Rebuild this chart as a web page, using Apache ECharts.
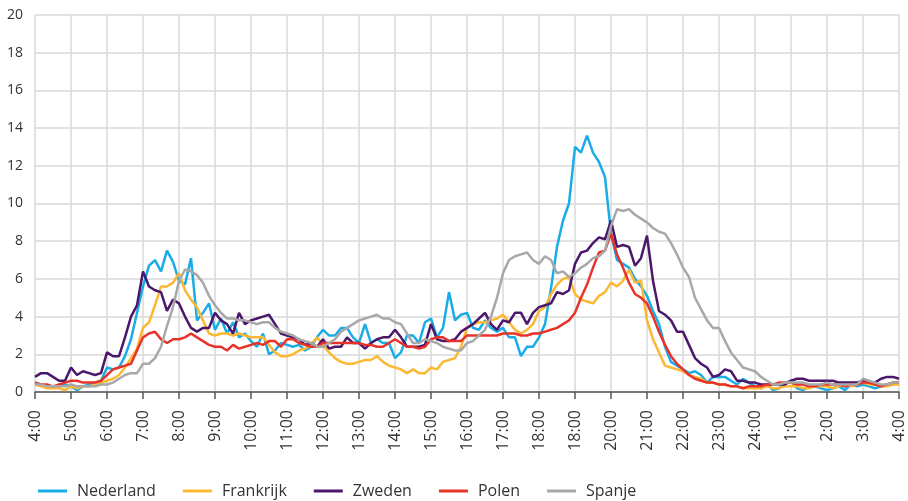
<!DOCTYPE html>
<html>
<head>
<meta charset="utf-8">
<script src="https://cdn.jsdelivr.net/npm/echarts@6/dist/echarts.min.js"></script>
<style>
  html, body { margin: 0; padding: 0; background: #fff; }
  #main { width: 908px; height: 501px; }
</style>
</head>
<body>
<div id="main"></div>
<script>
// hour labels shown on the x axis (one per 6 points, 10-minute steps)
var hourLabels = ['4:00', '5:00', '6:00', '7:00', '8:00', '9:00', '10:00', '11:00', '12:00',
    '13:00', '14:00', '15:00', '16:00', '17:00', '18:00', '18:00', '20:00', '21:00', '22:00',
    '23:00', '24:00', '1:00', '2:00', '3:00', '4:00'];

var nederland = [
    0.5, 0.4, 0.3, 0.3, 0.3, 0.4,
    0.3, 0.1, 0.3, 0.4, 0.5, 0.6,
    1.3, 1.2, 1.3, 1.9, 2.8, 4.2,
    5.6, 6.7, 7.0, 6.4, 7.5, 6.9,
    5.9, 5.7, 7.1, 3.8, 4.2, 4.7,
    3.3, 3.9, 3.1, 3.7, 2.9, 3.1,
    2.7, 2.4, 3.1, 2.0, 2.2, 2.6,
    2.5, 2.4, 2.5, 2.2, 2.4, 2.9,
    3.3, 3.0, 3.0, 3.4, 3.4, 2.9,
    2.6, 3.6, 2.6, 2.8, 2.6, 2.6,
    1.8, 2.1, 3.0, 3.0, 2.6, 3.7,
    3.9, 2.9, 3.4, 5.3, 3.8, 4.1,
    4.2, 3.4, 3.3, 3.8, 3.4, 3.2,
    3.4, 2.9, 2.9, 1.9, 2.4, 2.4,
    2.9, 3.6, 5.5, 7.7, 9.1, 10.0,
    13.0, 12.7, 13.6, 12.7, 12.2, 11.4,
    8.4, 7.0, 6.8, 6.6, 6.0, 5.6,
    5.1, 4.3, 3.6, 2.4, 1.6, 1.4,
    1.2, 1.0, 1.1, 0.9, 0.5, 0.8,
    0.8, 0.8, 0.6, 0.4, 0.7, 0.5,
    0.3, 0.2, 0.4, 0.1, 0.2, 0.5,
    0.6, 0.2, 0.1, 0.3, 0.3, 0.2,
    0.1, 0.2, 0.3, 0.1, 0.4, 0.3,
    0.4, 0.3, 0.2, 0.3, 0.4, 0.5,
    0.4];

var frankrijk = [
    0.4, 0.3, 0.2, 0.2, 0.2, 0.1,
    0.3, 0.2, 0.3, 0.3, 0.4, 0.5,
    0.6, 0.7, 0.9, 1.3, 1.8, 2.3,
    3.4, 3.7, 4.6, 5.6, 5.6, 5.8,
    6.3, 5.4, 4.9, 4.5, 3.8, 3.1,
    3.0, 3.1, 3.1, 3.0, 3.1, 3.0,
    2.9, 2.9, 2.9, 2.5, 2.1, 1.9,
    1.9, 2.0, 2.2, 2.3, 2.5, 2.9,
    2.5, 2.1, 1.8, 1.6, 1.5, 1.5,
    1.6, 1.7, 1.7, 1.9, 1.6, 1.4,
    1.3, 1.2, 1.0, 1.2, 1.0, 1.0,
    1.3, 1.2, 1.6, 1.7, 1.8, 2.4,
    3.4, 3.6, 3.7, 3.7, 3.8, 3.9,
    4.1, 3.7, 3.3, 3.1, 3.3, 3.6,
    4.3, 4.5, 5.2, 5.7, 6.0, 6.1,
    5.2, 4.9, 4.8, 4.7, 5.1, 5.3,
    5.8, 5.6, 5.9, 6.5, 5.8, 5.9,
    3.8, 2.8, 2.1, 1.4, 1.3, 1.2,
    1.1, 0.9, 0.8, 0.7, 0.5, 0.5,
    0.4, 0.4, 0.3, 0.3, 0.2, 0.2,
    0.2, 0.2, 0.3, 0.2, 0.2, 0.3,
    0.3, 0.3, 0.2, 0.2, 0.3, 0.3,
    0.3, 0.2, 0.3, 0.4, 0.3, 0.4,
    0.5, 0.4, 0.4, 0.3, 0.3, 0.4,
    0.4];

var zweden = [
    0.8, 1.0, 1.0, 0.8, 0.6, 0.6,
    1.3, 0.9, 1.1, 1.0, 0.9, 1.0,
    2.1, 1.9, 1.9, 2.9, 4.0, 4.6,
    6.4, 5.6, 5.4, 5.3, 4.3, 4.9,
    4.7, 4.0, 3.4, 3.2, 3.4, 3.4,
    4.2, 3.8, 3.6, 3.1, 4.2, 3.6,
    3.8, 3.9, 4.0, 4.1, 3.6, 3.1,
    3.0, 2.9, 2.8, 2.5, 2.6, 2.4,
    2.8, 2.3, 2.4, 2.4, 2.9, 2.6,
    2.6, 2.3, 2.6, 2.8, 2.9, 2.9,
    3.3, 2.9, 2.4, 2.4, 2.4, 2.5,
    3.6, 2.8, 2.7, 2.7, 2.8, 3.2,
    3.4, 3.6, 3.9, 4.2, 3.6, 3.3,
    3.8, 3.7, 4.2, 4.2, 3.6, 4.2,
    4.5, 4.6, 4.7, 5.3, 5.2, 5.4,
    6.8, 7.4, 7.5, 7.9, 8.2, 8.1,
    9.1, 7.7, 7.8, 7.7, 6.7, 7.1,
    8.3, 5.9, 4.3, 4.1, 3.8, 3.2,
    3.2, 2.5, 1.8, 1.5, 1.3, 0.8,
    0.9, 1.2, 1.1, 0.6, 0.6, 0.5,
    0.5, 0.4, 0.4, 0.4, 0.4, 0.4,
    0.6, 0.7, 0.7, 0.6, 0.6, 0.6,
    0.6, 0.6, 0.5, 0.5, 0.5, 0.5,
    0.6, 0.5, 0.5, 0.7, 0.8, 0.8,
    0.7];

var polen = [
    0.5, 0.4, 0.4, 0.3, 0.4, 0.5,
    0.6, 0.6, 0.5, 0.5, 0.5, 0.6,
    0.9, 1.2, 1.3, 1.4, 1.5, 2.2,
    2.9, 3.1, 3.2, 2.8, 2.6, 2.8,
    2.8, 2.9, 3.1, 2.9, 2.7, 2.5,
    2.4, 2.4, 2.2, 2.5, 2.3, 2.4,
    2.5, 2.6, 2.5, 2.7, 2.7, 2.4,
    2.8, 2.8, 2.6, 2.5, 2.4, 2.4,
    2.6, 2.6, 2.6, 2.6, 2.6, 2.6,
    2.6, 2.5, 2.5, 2.4, 2.4, 2.6,
    2.8, 2.6, 2.4, 2.4, 2.3, 2.4,
    2.8, 2.9, 2.9, 2.7, 2.7, 2.7,
    3.0, 3.0, 3.0, 3.0, 3.0, 3.0,
    3.1, 3.1, 3.1, 3.0, 3.0, 3.1,
    3.1, 3.2, 3.3, 3.4, 3.6, 3.8,
    4.2, 5.0, 5.7, 6.6, 7.4, 7.5,
    8.4, 7.3, 6.6, 5.8, 5.2, 5.0,
    4.7, 4.0, 3.2, 2.5, 1.9, 1.5,
    1.2, 0.9, 0.7, 0.6, 0.5, 0.5,
    0.4, 0.4, 0.3, 0.3, 0.2, 0.3,
    0.3, 0.3, 0.4, 0.4, 0.5, 0.5,
    0.5, 0.4, 0.4, 0.3, 0.3, 0.4,
    0.4, 0.4, 0.4, 0.3, 0.4, 0.4,
    0.5, 0.5, 0.4, 0.3, 0.4, 0.5,
    0.5];

var spanje = [
    0.4, 0.4, 0.3, 0.3, 0.3, 0.3,
    0.4, 0.3, 0.3, 0.3, 0.3, 0.4,
    0.4, 0.5, 0.7, 0.9, 1.0, 1.0,
    1.5, 1.5, 1.8, 2.4, 3.5, 4.5,
    5.9, 6.5, 6.4, 6.2, 5.8, 5.1,
    4.6, 4.2, 3.9, 3.9, 3.8, 3.8,
    3.7, 3.6, 3.7, 3.7, 3.4, 3.2,
    3.1, 3.0, 2.8, 2.7, 2.6, 2.4,
    2.4, 2.6, 2.8, 3.2, 3.4, 3.6,
    3.8, 3.9, 4.0, 4.1, 3.9, 3.9,
    3.7, 3.6, 3.1, 2.6, 2.6, 2.8,
    2.7, 2.6, 2.4, 2.3, 2.2, 2.2,
    2.6, 2.7, 3.0, 3.3, 4.0, 5.0,
    6.3, 7.0, 7.2, 7.3, 7.4, 7.0,
    6.8, 7.2, 7.0, 6.3, 6.4, 6.1,
    6.3, 6.6, 6.8, 7.1, 7.2, 7.5,
    8.8, 9.7, 9.6, 9.7, 9.4, 9.2,
    9.0, 8.7, 8.5, 8.4, 7.9, 7.3,
    6.6, 6.1, 5.0, 4.4, 3.8, 3.4,
    3.4, 2.7, 2.1, 1.7, 1.3, 1.2,
    1.1, 0.8, 0.6, 0.4, 0.4, 0.5,
    0.5, 0.5, 0.5, 0.4, 0.4, 0.4,
    0.5, 0.4, 0.4, 0.4, 0.4, 0.4,
    0.7, 0.6, 0.5, 0.4, 0.4, 0.5,
    0.5];

var colors = ['#19ace6', '#fdb833', '#4a176b', '#e8332a', '#a8a8a8'];
var seriesNames = ['Nederland', 'Frankrijk', 'Zweden', 'Polen', 'Spanje'];
var seriesData = [nederland, frankrijk, zweden, polen, spanje];

// one category per 10-minute step
var steps = [];
for (var i = 0; i < nederland.length; i++) {
    steps.push(String(i));
}

var everyHour = function (index) {
    return index % 6 === 0;
};

var fontFamily = '"Open Sans", "Noto Sans", sans-serif';

var myChart = echarts.init(document.getElementById('main'), null, {renderer: 'canvas'});

var option = {
    animation: false,
    color: colors,
    grid: {
        left: 35,
        right: 9,
        top: 15,
        bottom: 109
    },
    legend: {
        left: 33,
        top: 476,
        icon: 'rect',
        itemWidth: 29,
        itemHeight: 3,
        itemGap: 27,
        textStyle: {
            fontFamily: fontFamily,
            fontSize: 16,
            color: '#333',
            lineHeight: 20,
            padding: [0, 0, 0, 5]
        },
        data: seriesNames
    },
    xAxis: {
        type: 'category',
        boundaryGap: false,
        data: steps,
        axisLine: {
            lineStyle: {color: '#555', width: 1.5}
        },
        axisTick: {
            interval: function (index) { return everyHour(index); },
            length: 7,
            lineStyle: {color: '#555', width: 1.5}
        },
        splitLine: {
            show: true,
            interval: function (index) { return everyHour(index); },
            lineStyle: {color: '#d9d9d9', width: 1.5}
        },
        axisLabel: {
            interval: function (index) { return everyHour(index); },
            rotate: 90,
            margin: 18,
            fontFamily: fontFamily,
            fontSize: 16,
            color: '#333',
            formatter: function (value, index) {
                return hourLabels[index / 6] || '';
            }
        }
    },
    yAxis: {
        type: 'value',
        min: 0,
        max: 20,
        interval: 2,
        axisLine: {show: false},
        axisTick: {show: false},
        splitLine: {
            lineStyle: {color: '#d9d9d9', width: 1.5}
        },
        axisLabel: {
            margin: 12,
            fontFamily: fontFamily,
            fontSize: 14,
            color: '#333'
        }
    },
    series: seriesNames.map(function (name, k) {
        return {
            name: name,
            type: 'line',
            data: seriesData[k],
            symbol: 'none',
            lineStyle: {width: 2.5, color: colors[k]},
            itemStyle: {color: colors[k]}
        };
    })
};

myChart.setOption(option);
</script>
</body>
</html>
